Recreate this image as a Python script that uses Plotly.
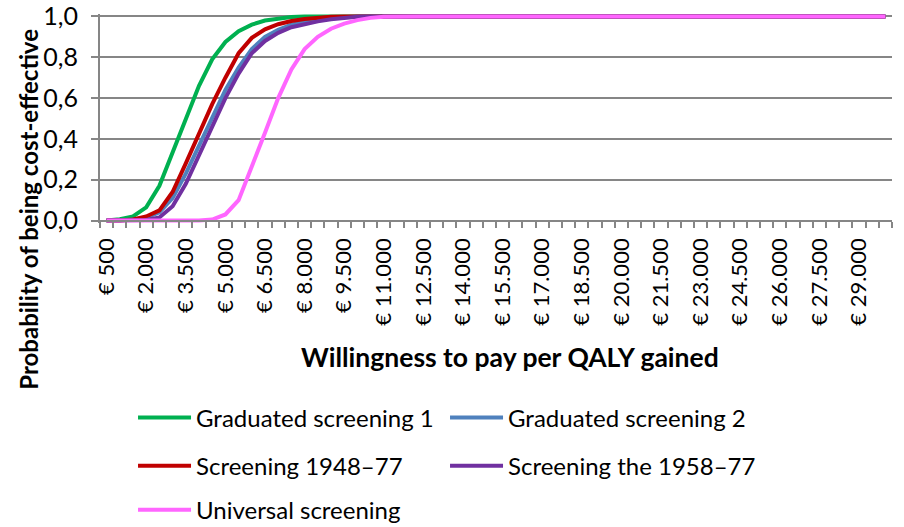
import plotly.graph_objects as go

# Willingness to pay per QALY gained (EUR), one point per 500
wtp = [500, 1000, 1500, 2000, 2500, 3000, 3500, 4000, 4500, 5000,
       5500, 6000, 6500, 7000, 7500, 8000, 8500, 9000, 9500, 10000,
       10500, 11000, 11500, 12000, 12500, 13000, 13500, 14000, 14500, 15000,
       15500, 16000, 16500, 17000, 17500, 18000, 18500, 19000, 19500, 20000,
       20500, 21000, 21500, 22000, 22500, 23000, 23500, 24000, 24500, 25000,
       25500, 26000, 26500, 27000, 27500, 28000, 28500, 29000, 29500, 30000]

x_tick_values = [500, 2000, 3500, 5000, 6500, 8000, 9500, 11000, 12500, 14000,
                 15500, 17000, 18500, 20000, 21500, 23000, 24500, 26000, 27500, 29000]
x_tick_labels = ["€ 500", "€ 2.000", "€ 3.500", "€ 5.000", "€ 6.500", "€ 8.000",
                 "€ 9.500", "€ 11.000", "€ 12.500", "€ 14.000", "€ 15.500",
                 "€ 17.000", "€ 18.500", "€ 20.000", "€ 21.500", "€ 23.000",
                 "€ 24.500", "€ 26.000", "€ 27.500", "€ 29.000"]
y_tick_values = [0.0, 0.2, 0.4, 0.6, 0.8, 1.0]
y_tick_labels = ["0,0", "0,2", "0,4", "0,6", "0,8", "1,0"]

graduated_1 = [0.0, 0.007, 0.02, 0.065, 0.17, 0.33, 0.50, 0.66, 0.79, 0.875,
               0.928, 0.96, 0.98, 0.99, 0.997, 1.0, 1.0, 1.0, 1.0, 1.0,
               1.0, 1.0, 1.0, 1.0, 1.0, 1.0, 1.0, 1.0, 1.0, 1.0,
               1.0, 1.0, 1.0, 1.0, 1.0, 1.0, 1.0, 1.0, 1.0, 1.0,
               1.0, 1.0, 1.0, 1.0, 1.0, 1.0, 1.0, 1.0, 1.0, 1.0,
               1.0, 1.0, 1.0, 1.0, 1.0, 1.0, 1.0, 1.0, 1.0, 1.0]
graduated_2 = [0.0, 0.0, 0.005, 0.015, 0.04, 0.11, 0.23, 0.37, 0.51, 0.64,
               0.75, 0.84, 0.90, 0.935, 0.96, 0.975, 0.986, 0.994, 0.998, 1.0,
               1.0, 1.0, 1.0, 1.0, 1.0, 1.0, 1.0, 1.0, 1.0, 1.0,
               1.0, 1.0, 1.0, 1.0, 1.0, 1.0, 1.0, 1.0, 1.0, 1.0,
               1.0, 1.0, 1.0, 1.0, 1.0, 1.0, 1.0, 1.0, 1.0, 1.0,
               1.0, 1.0, 1.0, 1.0, 1.0, 1.0, 1.0, 1.0, 1.0, 1.0]
screening_1948_77 = [0.0, 0.0, 0.005, 0.02, 0.05, 0.14, 0.28, 0.43, 0.57, 0.70,
                     0.82, 0.895, 0.937, 0.962, 0.978, 0.988, 0.995, 0.999, 1.0, 1.0,
                     1.0, 1.0, 1.0, 1.0, 1.0, 1.0, 1.0, 1.0, 1.0, 1.0,
                     1.0, 1.0, 1.0, 1.0, 1.0, 1.0, 1.0, 1.0, 1.0, 1.0,
                     1.0, 1.0, 1.0, 1.0, 1.0, 1.0, 1.0, 1.0, 1.0, 1.0,
                     1.0, 1.0, 1.0, 1.0, 1.0, 1.0, 1.0, 1.0, 1.0, 1.0]
screening_1958_77 = [0.0, 0.0, 0.0, 0.003, 0.015, 0.07, 0.18, 0.32, 0.46, 0.60,
                     0.72, 0.82, 0.88, 0.92, 0.947, 0.963, 0.976, 0.986, 0.993, 0.998,
                     1.0, 1.0, 1.0, 1.0, 1.0, 1.0, 1.0, 1.0, 1.0, 1.0,
                     1.0, 1.0, 1.0, 1.0, 1.0, 1.0, 1.0, 1.0, 1.0, 1.0,
                     1.0, 1.0, 1.0, 1.0, 1.0, 1.0, 1.0, 1.0, 1.0, 1.0,
                     1.0, 1.0, 1.0, 1.0, 1.0, 1.0, 1.0, 1.0, 1.0, 1.0]
universal = [0.0, 0.0, 0.0, 0.0, 0.0, 0.0, 0.0, 0.0, 0.005, 0.03,
             0.10, 0.26, 0.43, 0.60, 0.74, 0.84, 0.90, 0.94, 0.965, 0.982,
             0.993, 0.998, 1.0, 1.0, 1.0, 1.0, 1.0, 1.0, 1.0, 1.0,
             1.0, 1.0, 1.0, 1.0, 1.0, 1.0, 1.0, 1.0, 1.0, 1.0,
             1.0, 1.0, 1.0, 1.0, 1.0, 1.0, 1.0, 1.0, 1.0, 1.0,
             1.0, 1.0, 1.0, 1.0, 1.0, 1.0, 1.0, 1.0, 1.0, 1.0]

series = [
    ("Graduated screening 1", graduated_1, "#00B050", "legend"),
    ("Graduated screening 2", graduated_2, "#4F81BD", "legend"),
    ("Screening 1948–77", screening_1948_77, "#C00000", "legend2"),
    ("Screening the 1958–77", screening_1958_77, "#7030A0", "legend2"),
    ("Universal screening", universal, "#FF66FF", "legend3"),
]

FONT = "Lato, 'Open Sans', sans-serif"
GRID = "#868686"

fig = go.Figure()
for name, vals, color, leg in series:
    fig.add_trace(go.Scatter(
        x=wtp, y=vals, name=name, mode="lines",
        line=dict(color=color, width=4),
        legend=leg,
    ))

pad = 0.012
fig.update_layout(
    width=904, height=527,
    margin=dict(l=100, r=12, t=14, b=304, autoexpand=False),
    paper_bgcolor="white", plot_bgcolor="white",
    font=dict(family=FONT, size=22, color="black"),
    xaxis=dict(
        range=[250, 30250], automargin=False,
        anchor="free", position=pad / (1 + 2 * pad),
        showline=True, linecolor=GRID, linewidth=2,
        showgrid=False, zeroline=False,
        tickmode="array", tickvals=x_tick_values, ticktext=x_tick_labels,
        tickangle=-90, ticks="",
        ticklabelstandoff=8,
        tickfont=dict(family=FONT, size=22, color="black"),
        minor=dict(tickmode="linear", tick0=250, dtick=500, ticks="outside",
                   ticklen=6, tickwidth=2, tickcolor=GRID, showgrid=False),
    ),
    yaxis=dict(
        range=[-pad, 1 + pad], automargin=False,
        tickmode="array", tickvals=y_tick_values, ticktext=y_tick_labels,
        showline=True, linecolor=GRID, linewidth=2,
        showgrid=True, gridcolor=GRID, gridwidth=2,
        zeroline=False,
        ticks="outside", ticklen=7, tickwidth=2, tickcolor=GRID,
        ticklabelstandoff=8,
        tickfont=dict(family=FONT, size=25, color="black"),
    ),
    showlegend=True,
    annotations=[
        dict(text="<b>Probability of being cost-effective</b>", textangle=-90,
             xref="paper", yref="paper", x=-0.090, y=0.067,
             xanchor="center", yanchor="middle", showarrow=False,
             font=dict(family=FONT, size=24, color="black")),
        dict(text="<b>Willingness to pay per QALY gained</b>",
             xref="paper", yref="paper", x=0.518, y=-0.641,
             xanchor="center", yanchor="middle", showarrow=False,
             font=dict(family=FONT, size=26.5, color="black")),
    ],
)

legend_common = dict(orientation="h", xanchor="left", yanchor="middle",
                     x=0.0417, entrywidth=244, entrywidthmode="pixels",
                     bgcolor="rgba(0,0,0,0)", font=dict(family=FONT, size=24, color="black"),
                     itemwidth=53)
fig.update_layout(
    legend=dict(legend_common, y=-0.933),
    legend2=dict(legend_common, y=-1.163),
    legend3=dict(legend_common, y=-1.374),
)

fig.write_html("out.html", config={"displayModeBar": False},
               post_script="document.body.style.margin='0';")
